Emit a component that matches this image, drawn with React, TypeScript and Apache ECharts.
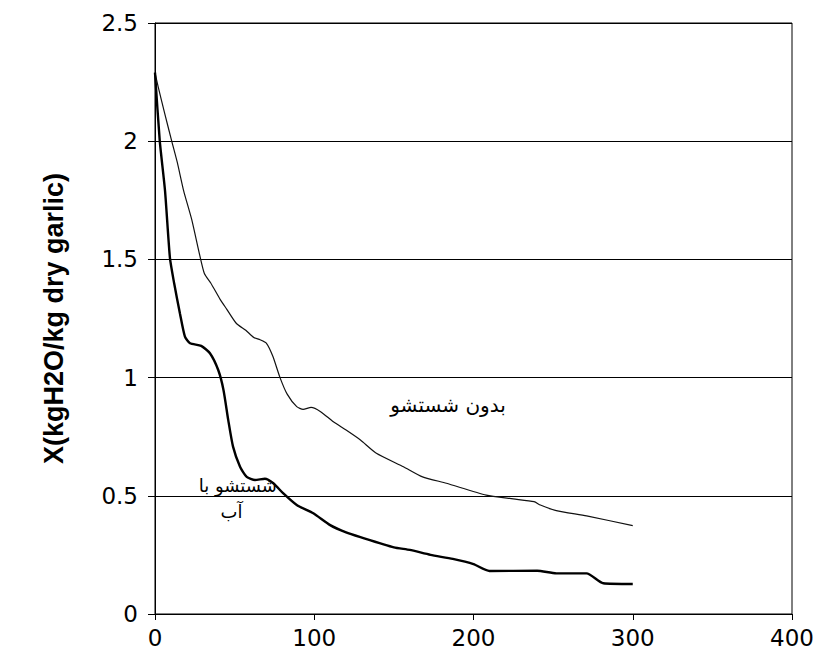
import React, { useEffect, useRef } from "react";
import * as echarts from "echarts";

const unwashedTime = [0, 2, 6, 10.5, 14, 18, 23, 28, 31, 35, 41, 45, 51, 57, 62, 66, 70, 74, 78.5, 83, 89, 93, 98, 104, 112, 120, 129, 139, 156, 168, 183, 208, 225, 238, 242, 252, 271, 300];
const unwashedX = [2.29, 2.23, 2.12, 2.0, 1.91, 1.79, 1.67, 1.52, 1.44, 1.4, 1.33, 1.29, 1.23, 1.2, 1.17, 1.16, 1.145, 1.09, 1.0, 0.93, 0.877, 0.866, 0.874, 0.856, 0.813, 0.778, 0.736, 0.68, 0.623, 0.58, 0.553, 0.503, 0.487, 0.475, 0.461, 0.437, 0.415, 0.374];

const washedTime = [0, 3, 6.3, 9.4, 12, 15.7, 18.8, 22, 29, 34.5, 39.7, 43, 46, 49, 53.4, 57.6, 62.8, 69, 74.3, 80.6, 89, 99.4, 110, 120, 129, 150, 160, 173, 187, 200, 210, 240, 252, 271, 281.5, 300];
const washedX = [2.29, 2.0, 1.79, 1.505, 1.4, 1.27, 1.173, 1.145, 1.134, 1.103, 1.032, 0.948, 0.82, 0.708, 0.623, 0.58, 0.567, 0.572, 0.553, 0.51, 0.461, 0.426, 0.376, 0.345, 0.325, 0.282, 0.271, 0.25, 0.233, 0.211, 0.182, 0.183, 0.172, 0.172, 0.13, 0.127];

const yTicks = [0, 0.5, 1, 1.5, 2, 2.5];
const xTicks = [0, 100, 200, 300, 400];

const labelUnwashed = "بدون شستشو";
const labelWashed1 = "شستشو با";
const labelWashed2 = "آب";
const labelUnwashedPos = [184, 0.884];
const labelWashed1Pos = [52, 0.545];
const labelWashed2Pos = [48, 0.432];

const yName = "X(kgH2O/kg dry garlic)";

export default function App() {
  const ref = useRef<HTMLDivElement>(null);
  useEffect(() => {
    document.body.style.margin = "0";
    const chart = echarts.init(ref.current!, null, { renderer: "svg" });
    const tickFont = { fontFamily: "DejaVu Sans", fontSize: 23, color: "#000" };
    chart.setOption({
      animation: false,
      backgroundColor: "#fff",
      grid: { left: 155, right: 39, top: 23, bottom: 38, show: true, borderColor: "#000", borderWidth: 1 },
      xAxis: {
        type: "value",
        min: xTicks[0],
        max: xTicks[xTicks.length - 1],
        interval: 100,
        axisLine: { show: true, lineStyle: { color: "#000", width: 1 } },
        axisTick: { show: true, length: 6, lineStyle: { color: "#000" } },
        axisLabel: { ...tickFont, margin: 12 },
        splitLine: { show: false },
      },
      yAxis: {
        type: "value",
        min: yTicks[0],
        max: yTicks[yTicks.length - 1],
        interval: 0.5,
        name: yName,
        nameLocation: "middle",
        nameGap: 88,
        nameTextStyle: { fontFamily: "Liberation Sans Narrow, Arial Narrow, Liberation Sans", fontWeight: "bold", fontSize: 27, color: "#000" },
        axisLine: { show: true, lineStyle: { color: "#000", width: 1 } },
        axisTick: { show: true, length: 7, lineStyle: { color: "#000" } },
        axisLabel: { ...tickFont, margin: 17 },
        splitLine: { show: true, lineStyle: { color: "#000", width: 1 } },
      },
      series: [
        {
          type: "line",
          name: labelUnwashed,
          data: unwashedTime.map((t, i) => [t, unwashedX[i]]),
          showSymbol: false,
          smooth: 0.2,
          lineStyle: { color: "#111", width: 1.2 },
          z: 3,
        },
        {
          type: "line",
          name: labelWashed1 + " " + labelWashed2,
          data: washedTime.map((t, i) => [t, washedX[i]]),
          showSymbol: false,
          smooth: 0.2,
          lineStyle: { color: "#000", width: 2.4 },
          z: 4,
        },
      ],
    });
    const mk = (text: string, pos: number[], size: number) => {
      const p = chart.convertToPixel({ gridIndex: 0 }, pos) as number[];
      return {
        type: "text",
        x: p[0],
        y: p[1],
        z: 10,
        style: { text, fontFamily: "DejaVu Sans", fontSize: size, fill: "#000", align: "center", verticalAlign: "middle" },
      };
    };
    chart.setOption({
      graphic: [
        mk(labelUnwashed, labelUnwashedPos, 20),
        mk(labelWashed1, labelWashed1Pos, 18),
        mk(labelWashed2, labelWashed2Pos, 18),
      ],
    });
    return () => chart.dispose();
  }, []);
  return <div ref={ref} style={{ width: 831, height: 652 }} />;
}
